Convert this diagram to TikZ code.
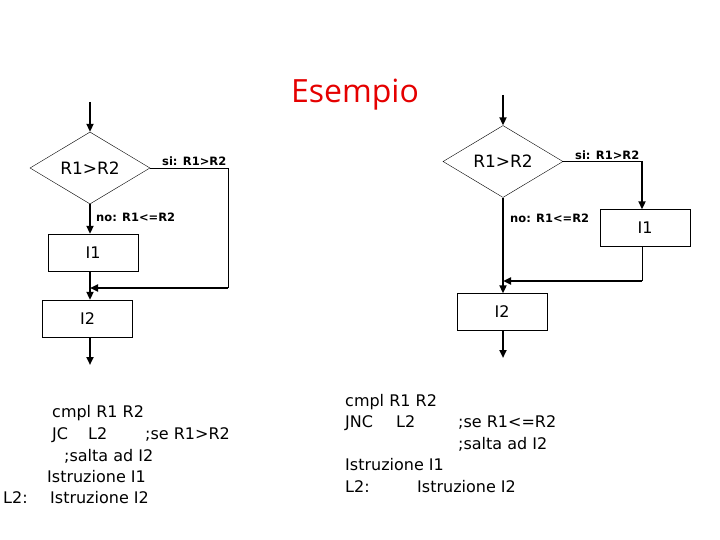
\documentclass[tikz,border=0pt]{standalone}
\usepackage{fontspec}
\setmainfont{DejaVu Sans}
\newfontfamily\titlefont{Open Sans}
\usetikzlibrary{shapes.geometric,arrows.meta}
\begin{document}
\begin{tikzpicture}[x=1pt,y=-1pt,
  dec/.style={draw,diamond,aspect=1.67,inner sep=0pt,minimum width=120pt,minimum height=72pt,font=\fontsize{17}{20}\selectfont},
  box/.style={draw,rectangle,inner sep=0pt,minimum width=90pt,minimum height=37pt,font=\fontsize{16}{19}\selectfont},
  thickline/.style={line width=2.4pt},
  thinline/.style={line width=0.9pt},
  arr/.style={-{Triangle[width=7pt,length=8pt]}},
  lbl/.style={font=\bfseries\fontsize{11.5}{13}\selectfont,inner sep=0pt},
  code/.style={anchor=base west,inner sep=0pt,font=\fontsize{16}{19}\selectfont}]
\useasboundingbox[fill=white] (0,0) rectangle (720,540);

\node[text=red!90!black,font=\titlefont\fontsize{32}{36}\selectfont,anchor=base,inner sep=0pt] (title) at (355,103) {Esempio};

% ---------- left diagram ----------
\coordinate (Lin) at (90,102);
\node[dec] (Ld) at (90,168) {R1>R2};
\node[box] (LI1) at (93,252.5) {I1};
\node[box] (LI2) at (87.5,318.5) {I2};
\coordinate (Lc) at (228,168);
\coordinate (Lj) at (228,288);
\coordinate (Lm) at (90,288);
\coordinate (Lout) at (90,365);

\draw[thickline,arr] (Lin) -- (Ld.north);
\draw[thickline,arr] (Ld.south) -- (LI1.north -| Ld.south);
\draw[thinline] (Ld.east) -- (Lc) -- (Lj);
\draw[thickline,arr] (Lj) -- (Lm);
\draw[thickline,arr] (LI1.south -| Ld.south) -- (LI2.north -| Ld.south);
\draw[thickline,arr] (LI2.south -| Ld.south) -- (Lout);
\node[lbl,anchor=base west] (Lsi) at (162,166) {si: R1>R2};
\node[lbl,anchor=base west] (Lno) at (96,222) {no: R1<=R2};

% ---------- right diagram ----------
\coordinate (Rin) at (503,95);
\node[dec] (Rd) at (503,161.5) {R1>R2};
\node[box] (RI1) at (645,228) {I1};
\node[box] (RI2) at (502,312) {I2};
\coordinate (Rc) at (642,161.5);
\coordinate (Rb) at (642,281);
\coordinate (Rm) at (503,281);
\coordinate (Rout) at (503,358);

\draw[thickline,arr] (Rin) -- (Rd.north);
\draw[thinline] (Rd.east) -- (Rc);
\draw[thickline,arr] (Rc) -- (RI1.north -| Rc);
\draw[thinline] (RI1.south -| Rc) -- (Rb);
\draw[thickline,arr] (Rb) -- (Rm);
\draw[thickline,arr] (Rd.south) -- (RI2.north -| Rd.south);
\draw[thickline,arr] (RI2.south -| Rd.south) -- (Rout);
\node[lbl,anchor=base west] (Rsi) at (575,160) {si: R1>R2};
\node[lbl,anchor=base west] (Rno) at (510,222.5) {no: R1<=R2};

% ---------- left code ----------
\node[code] (lc1) at (52,417) {cmpl R1 R2};
\node[code] (lc2a) at (52,439) {JC};
\node[code] (lc2b) at (88,439) {L2};
\node[code] (lc2c) at (145,439) {;se R1>R2};
\node[code] (lc3) at (64,461) {;salta ad I2};
\node[code] (lc4) at (47,482) {Istruzione I1};
\node[code] (lc5a) at (3,503) {L2:};
\node[code] (lc5b) at (50,503) {Istruzione I2};

% ---------- right code ----------
\node[code] (rc1) at (345,406) {cmpl R1 R2};
\node[code] (rc2a) at (345,427) {JNC};
\node[code] (rc2b) at (396,427) {L2};
\node[code] (rc2c) at (458,427) {;se R1<=R2};
\node[code] (rc3) at (458,449) {;salta ad I2};
\node[code] (rc4) at (345,470) {Istruzione I1};
\node[code] (rc5a) at (345,492) {L2:};
\node[code] (rc5b) at (417,492) {Istruzione I2};
\end{tikzpicture}
\end{document}
